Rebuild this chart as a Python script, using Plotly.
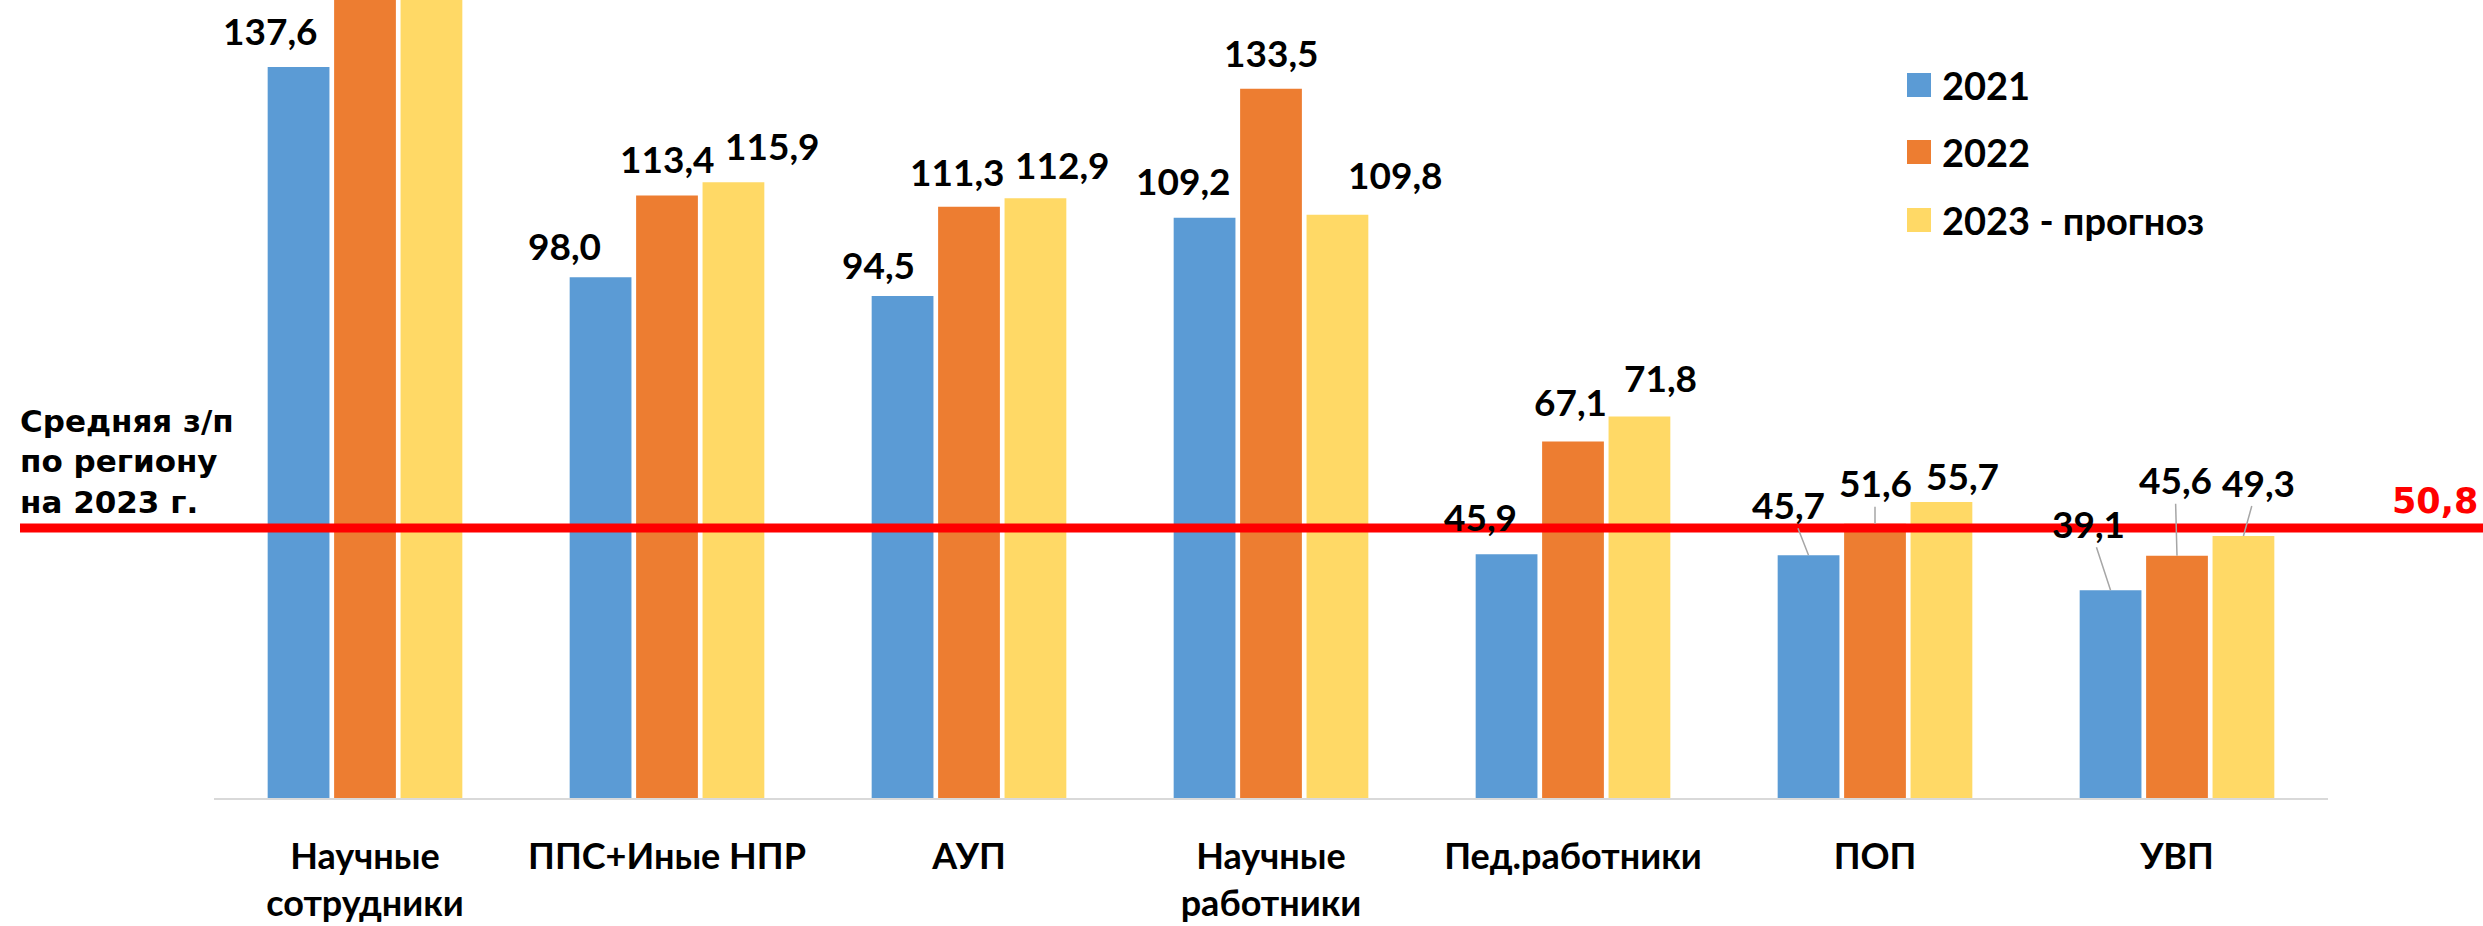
import plotly.graph_objects as go

# ---------------- data ----------------
categories = ["Научные<br>сотрудники", "ППС+Иные НПР", "АУП", "Научные<br>работники",
              "Пед.работники", "ПОП", "УВП"]
series_names = ["2021", "2022", "2023 - прогноз"]
values_2021 = [137.6, 98.0, 94.5, 109.2, 45.9, 45.7, 39.1]
# first-category 2022 / 2023 bars run off the top of the picture: values estimated
values_2022 = [160.0, 113.4, 111.3, 133.5, 67.1, 51.6, 45.6]
values_2023 = [162.0, 115.9, 112.9, 109.8, 71.8, 55.7, 49.3]
region_avg = 50.8
region_avg_text = "Средняя з/п<br>по региону<br>на 2023 г."

# ---------------- style / layout ----------------
colors = ["#5B9BD5", "#ED7D31", "#FFD966"]
W, H = 2483, 926
ML, MR, MT, MB = 214, 155, 0, 128
Y_MAX = 150.2
BARGAP, BARGROUPGAP = 0.34, 0.07
LABEL_FONT = dict(family="Lato", size=37, color="black", weight="bold")

# label offsets (px) of the label centre from the bar top, and leader-line flags
label_offsets = [
    [(-28, -36), (-36, -32), (-24, -31), (-21, -37), (-26, -38), (-20, -51), (-22, -67)],
    [(0, -36), (0, -37), (-12, -35), (0, -36), (-3, -40), (0, -41), (-2, -76)],
    [(0, -36), (39, -37), (27, -34), (58, -40), (21, -39), (21, -27), (15, -54)],
]
leaders = [
    [0, 0, 0, 0, 0, 1, 1],
    [0, 0, 0, 0, 0, 1, 1],
    [0, 0, 0, 0, 0, 0, 1],
]

PW = W - ML - MR
PH = H - MT - MB


def px_x(px):
    return (px - ML) / PW


def px_y(py):
    return (H - MB - py) / PH


def fmt(v):
    return f"{v:.1f}".replace(".", ",")


series = [values_2021, values_2022, values_2023]

fig = go.Figure()
for name, vals, col in zip(series_names, series, colors):
    fig.add_trace(go.Bar(x=list(range(len(categories))), y=vals, name=name,
                         marker=dict(color=col, line=dict(width=0)),
                         showlegend=False, hoverinfo="skip"))

annotations = []
slot = (1 - BARGAP) / len(series)
for k, vals in enumerate(series):
    for i, v in enumerate(vals):
        if v > Y_MAX:
            continue
        dx, dy = label_offsets[k][i]
        xpos = i + (k - (len(series) - 1) / 2) * slot
        if leaders[k][i]:
            annotations.append(dict(x=xpos, y=v, xref="x", yref="y", text=fmt(v),
                                    showarrow=True, arrowhead=0, arrowwidth=1.5,
                                    arrowcolor="#A6A6A6", ax=dx, ay=dy,
                                    standoff=0, startstandoff=0, font=LABEL_FONT))
        else:
            annotations.append(dict(x=xpos, y=v, xref="x", yref="y", text=fmt(v),
                                    showarrow=False, xshift=dx, yshift=-dy,
                                    xanchor="center", yanchor="middle", font=LABEL_FONT))

# region average line + texts
avg_paper = region_avg / Y_MAX
shapes = [dict(type="line", xref="paper", yref="paper", x0=px_x(20), x1=px_x(W),
               y0=avg_paper, y1=avg_paper, line=dict(color="#FF0000", width=9), layer="above")]
annotations.append(dict(xref="paper", yref="paper", x=px_x(18), y=avg_paper,
                        xanchor="left", yanchor="bottom", yshift=6, align="left",
                        text=region_avg_text, showarrow=False,
                        font=dict(family="DejaVu Sans", size=31, color="black", weight="bold")))
annotations.append(dict(xref="paper", yref="paper", x=px_x(2480), y=avg_paper,
                        xanchor="right", yanchor="bottom", yshift=5,
                        text=fmt(region_avg), showarrow=False,
                        font=dict(family="DejaVu Sans", size=35, color="#FF0000", weight="bold")))

# custom legend
legend_rows = [85, 152, 220]
for name, col, cy in zip(series_names, colors, legend_rows):
    shapes.append(dict(type="rect", xref="paper", yref="paper",
                       x0=px_x(1907), x1=px_x(1931), y0=px_y(cy + 12), y1=px_y(cy - 12),
                       fillcolor=col, line=dict(width=0)))
    annotations.append(dict(xref="paper", yref="paper", x=px_x(1940), y=px_y(cy),
                            xanchor="left", yanchor="middle", text=name, showarrow=False,
                            font=dict(family="Lato", size=38, color="black", weight="bold")))

fig.update_layout(
    width=W, height=H,
    margin=dict(l=ML, r=MR, t=MT, b=MB, pad=0),
    paper_bgcolor="white", plot_bgcolor="white",
    barmode="group", bargap=BARGAP, bargroupgap=BARGROUPGAP,
    shapes=shapes, annotations=annotations,
    xaxis=dict(tickmode="array", tickvals=list(range(len(categories))), ticktext=categories,
               showline=True, linecolor="#D9D9D9", linewidth=2, ticks="",
               showgrid=False, zeroline=False, ticklabelstandoff=26,
               tickfont=dict(family="Lato", size=36, color="black", weight="bold"),
               range=[-0.5, len(categories) - 0.5], fixedrange=True),
    yaxis=dict(visible=False, range=[0, Y_MAX], fixedrange=True),
    showlegend=False,
)

fig.write_html("out.html", config={"displayModeBar": False},
               post_script="document.body.style.margin='0';")
